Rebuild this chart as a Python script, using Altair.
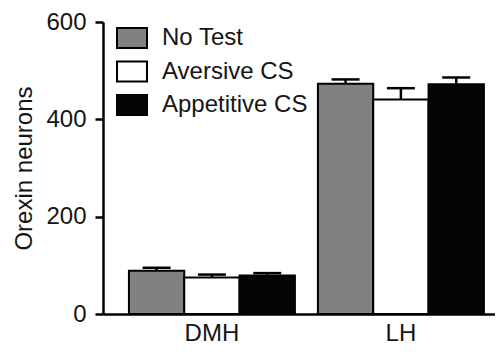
import altair as alt
import pandas as pd

regions = ["DMH", "DMH", "DMH", "LH", "LH", "LH"]
conditions = ["No Test", "Aversive CS", "Appetitive CS"] * 2
means = [89, 75, 79, 473, 441, 472]
sems = [6, 6, 5, 9, 23, 14]
condition_order = ["No Test", "Aversive CS", "Appetitive CS"]
fill_colors = ["#818181", "#ffffff", "#050505"]
y_ticks = [0, 200, 400, 600]

df = pd.DataFrame({"region": regions, "condition": conditions, "mean": means, "sem": sems})
df["upper"] = df["mean"] + df["sem"]

FONT = "Liberation Sans"
TXT = "#151515"

x_enc = alt.X(
    "region:N",
    sort=["DMH", "LH"],
    scale=alt.Scale(paddingInner=0.1217, paddingOuter=0.098, align=0.70),
    axis=alt.Axis(title=None, labelAngle=0, ticks=False, tickSize=0, labelPadding=7,
                  labelFontSize=24, labelColor=TXT, domainWidth=2.5,
                  domainColor="black", labelFont=FONT),
)
xoff = alt.XOffset("condition:N", sort=condition_order,
                   scale=alt.Scale(paddingInner=0, paddingOuter=0))
y_scale = alt.Scale(domain=[0, 600], nice=False)

bars = alt.Chart(df).mark_bar(stroke="black", strokeWidth=2).encode(
    x=x_enc,
    xOffset=xoff,
    y=alt.Y("mean:Q", scale=y_scale,
            axis=alt.Axis(title="Orexin neurons", values=y_ticks, grid=False,
                          tickSize=8, tickWidth=2.5, tickColor="black",
                          domainWidth=2.5, domainColor="black",
                          labelFontSize=24, labelPadding=9, labelColor=TXT,
                          titleFontSize=24, titleFontWeight="normal", titleColor=TXT,
                          titlePadding=9, labelFont=FONT, titleFont=FONT)),
    fill=alt.Fill("condition:N", sort=condition_order,
                  scale=alt.Scale(domain=condition_order, range=fill_colors),
                  legend=alt.Legend(title=None, orient="none", legendX=17, legendY=4,
                                    symbolType="M-1.5,-1H1.5V1H-1.5Z", symbolSize=400,
                                    symbolStrokeColor="black", symbolStrokeWidth=2,
                                    labelFontSize=24, labelFont=FONT, labelColor=TXT,
                                    labelOffset=18, rowPadding=5.5, padding=0,
                                    labelLimit=300)),
)

stems = alt.Chart(df).mark_rule(color="black", strokeWidth=2.5).encode(
    x=alt.X("region:N", sort=["DMH", "LH"]),
    xOffset=xoff,
    y=alt.Y("mean:Q", scale=y_scale),
    y2="upper:Q",
)

caps = alt.Chart(df).mark_tick(color="black", size=28, thickness=2.5, opacity=1).encode(
    x=alt.X("region:N", sort=["DMH", "LH"]),
    xOffset=xoff,
    y=alt.Y("upper:Q", scale=y_scale),
)

chart = alt.layer(bars, stems, caps).properties(
    width=392,
    height=292,
    autosize=alt.AutoSizeParams(type="none"),
    padding={"left": 95, "top": 14, "right": 0, "bottom": 32},
).configure_view(stroke=None)

chart.save("out.html", embed_options={"renderer": "svg", "actions": False})
